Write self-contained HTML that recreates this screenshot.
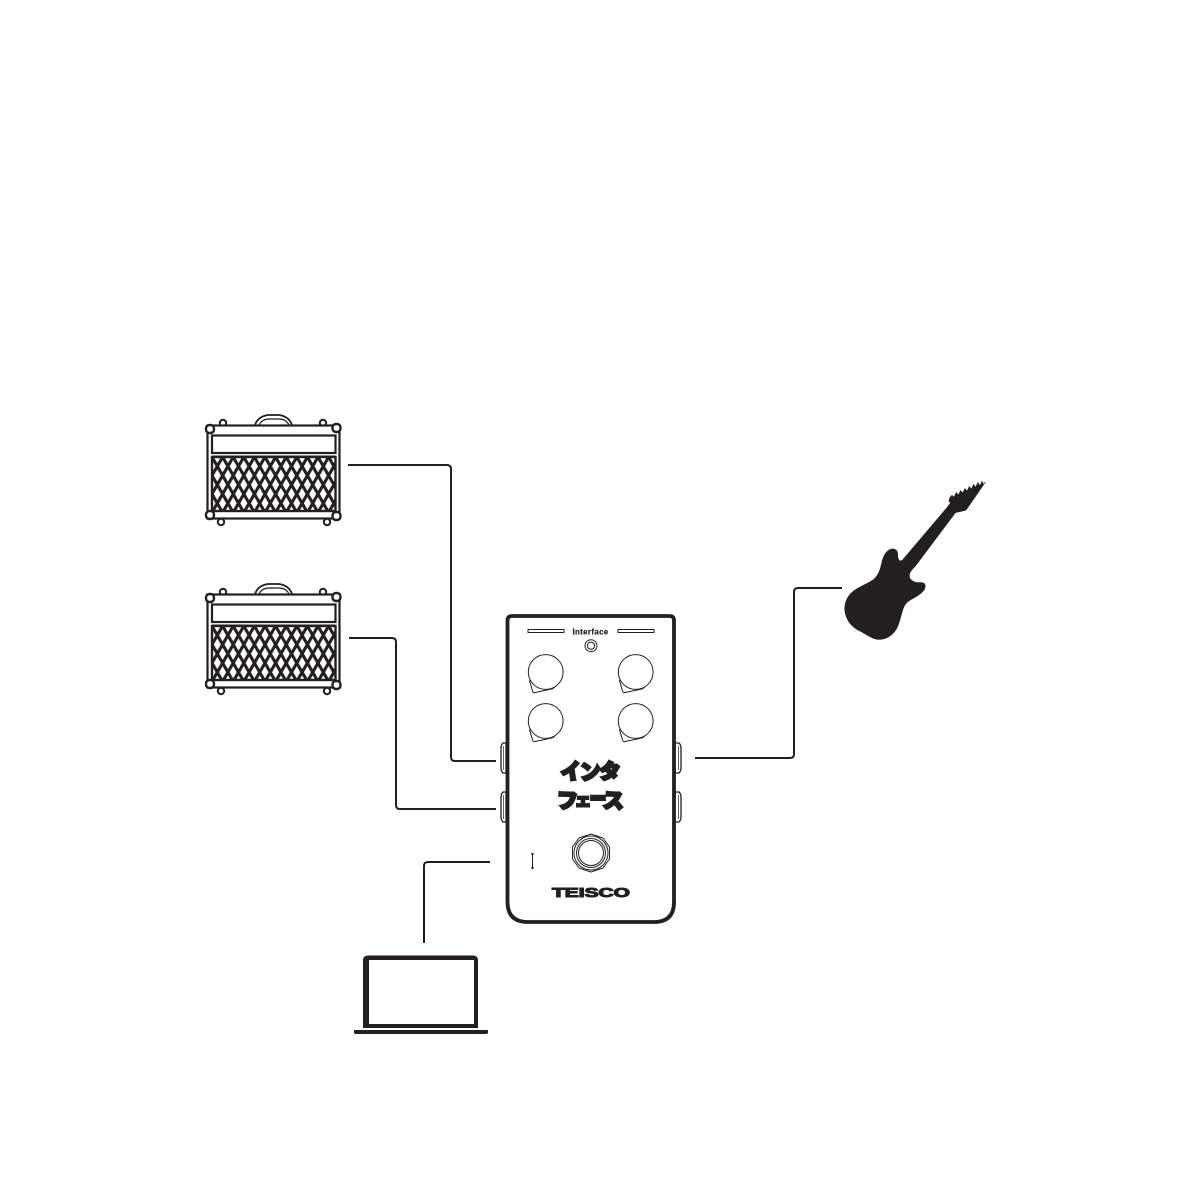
<!DOCTYPE html>
<html><head><meta charset="utf-8"><style>html,body{margin:0;padding:0;background:#fff}svg{display:block}</style></head><body>
<svg width="1192" height="1192" viewBox="0 0 1192 1192" xmlns="http://www.w3.org/2000/svg">
<defs>
<pattern id="g" x="212" y="457" width="10.6" height="18.500" patternUnits="userSpaceOnUse">
<rect width="10.6" height="18.500" fill="#fff"/>
<path d="M0 0L10.6 18.500M10.6 0L0 18.500" stroke="#231f20" stroke-width="3.100" fill="none"/>
<path d="M-1 -1.500L1 2M9.600 -1.500L11.600 2M-1 20L1 16.500M9.600 20L11.600 16.500" stroke="#231f20" stroke-width="3.100" fill="none"/>
</pattern>
<g id="amp">
<path d="M255 425c2-6 6-9 13-10h11c7 1 11 4 13 10" fill="#fff" stroke="#231f20" stroke-width="1.800"/>
<path d="M259 425c2-4 5-6 10-6h10c5 0 8 2 10 6" fill="none" stroke="#231f20" stroke-width="1.200"/>
<circle cx="223" cy="423" r="3.200" fill="#fff" stroke="#231f20" stroke-width="2"/>
<circle cx="323" cy="423" r="3.200" fill="#fff" stroke="#231f20" stroke-width="2"/>
<circle cx="221" cy="522" r="3.200" fill="#fff" stroke="#231f20" stroke-width="2"/>
<circle cx="327" cy="522" r="3.200" fill="#fff" stroke="#231f20" stroke-width="2"/>
<rect x="207.500" y="425.500" width="132" height="93" fill="#fff" stroke="#231f20" stroke-width="2.200"/>
<rect x="212" y="435.500" width="123.500" height="17.500" fill="#fff" stroke="#231f20" stroke-width="2.200"/>
<rect x="212" y="457" width="123.500" height="54" fill="url(#g)" stroke="#231f20" stroke-width="2.400"/>
<path d="M212 456.500H335.500" stroke="#231f20" stroke-width="2"/>
<rect x="206" y="425" width="8" height="8" rx="3.500" fill="#fff" stroke="#231f20" stroke-width="2.400"/>
<rect x="332.500" y="424" width="8" height="8" rx="3.500" fill="#fff" stroke="#231f20" stroke-width="2.400"/>
<rect x="206" y="511" width="8" height="8" rx="3.500" fill="#fff" stroke="#231f20" stroke-width="2.400"/>
<rect x="332.500" y="512" width="8" height="8" rx="3.500" fill="#fff" stroke="#231f20" stroke-width="2.400"/>
</g>
<g id="knob">
<path d="M-16.300 8.300L-13 19.500Q-12.500 21-10.500 20.500L7 16.800" fill="#fff" stroke="#231f20" stroke-width="1"/>
<path d="M7 16.800L9 15" fill="none" stroke="#231f20" stroke-width="1"/>
<circle r="17.400" fill="#fff" stroke="#231f20" stroke-width="1"/>
</g>
</defs>
<rect width="1192" height="1192" fill="#fff"/>

<use href="#amp"/>
<use href="#amp" y="169"/>

<g fill="none" stroke="#231f20" stroke-width="2">
<path d="M348 465H447Q451 465 451 469V757Q451 761 455 761H496"/>
<path d="M349 638H392Q396 638 396 642V805Q396 809 400 809H496"/>
<path d="M695 758H790Q794 758 794 754V592Q794 588 798 588H842"/>
<path d="M490 862H428Q424 862 424 866V943"/>
</g>

<g fill="#fff" stroke="#231f20" stroke-width="1.300">
<path d="M506 743H503Q501 745 501 748V768Q501 771 503 773H506Z"/>
<path d="M506 792H503Q501 794 501 797V817Q501 820 503 822H506Z"/>
<path d="M675 743H679Q681 745 681 748V768Q681 771 679 773H675Z"/>
<path d="M675 792H679Q681 794 681 797V817Q681 820 679 822H675Z"/>
<path d="M503.500 746V770M503.500 795V819M678.500 746V770M678.500 795V819" stroke-width=".7"/>
</g>

<path d="M512 616H669.500Q674 616 674 620.500V902Q674 922 654 922H528Q507.500 922 507.500 902V620.500Q507.500 616 512 616Z" fill="#fff" stroke="#231f20" stroke-width="3.800"/>

<rect x="528" y="629.500" width="36" height="3" fill="#fff" stroke="#231f20" stroke-width="1"/>
<rect x="618" y="629.500" width="36" height="3" fill="#fff" stroke="#231f20" stroke-width="1"/>
<text x="590.500" y="634.500" text-anchor="middle" font-family="Liberation Sans, sans-serif" font-weight="700" font-size="7.800" letter-spacing=".4" fill="#231f20" stroke="#231f20" stroke-width=".2">Interface</text>
<circle cx="591" cy="645.700" r="6" fill="#fff" stroke="#231f20" stroke-width="1"/>
<circle cx="591" cy="645.700" r="3.600" fill="#fff" stroke="#231f20" stroke-width="1"/>

<use href="#knob" x="545.700" y="672"/>
<use href="#knob" x="635.700" y="672"/>
<use href="#knob" x="545.700" y="721"/>
<use href="#knob" x="635.700" y="721"/>

<g font-family="Liberation Sans, Noto Sans CJK JP, sans-serif" font-weight="900" font-size="21" fill="#231f20" stroke="#231f20" stroke-width="2.400" stroke-linejoin="miter" text-anchor="middle">
<text transform="translate(572 779) rotate(-8)">イ</text>
<text transform="translate(591 779) rotate(-5)">ン</text>
<text transform="translate(609 779) rotate(6)">タ</text>
<text transform="translate(567 808) rotate(2)">フ</text>
<text transform="translate(583 806) scale(.8 .8)">ェ</text>
<text transform="translate(598 806) scale(.8 1)">ー</text>
<text transform="translate(613 808) rotate(3)">ス</text>
</g>

<path d="M532.500 854V868" stroke="#231f20" stroke-width="1"/>
<circle cx="532.500" cy="854" r="1.200" fill="#231f20"/>
<circle cx="532.500" cy="868" r="1.200" fill="#231f20"/>

<g fill="#fff" stroke="#231f20" stroke-width="1">
<path d="M591 834L603 838L609.500 847V859L603 868L591 872L579 868L572.500 859V847L579 838Z" stroke-linejoin="round"/>
<circle cx="591" cy="853" r="17"/>
<circle cx="591" cy="853" r="14.500"/>
<circle cx="591" cy="853" r="12.500"/>
</g>

<text x="552" y="897" textLength="78" lengthAdjust="spacingAndGlyphs" font-family="Liberation Sans, sans-serif" font-weight="700" font-size="12.500" fill="#231f20" stroke="#231f20" stroke-width="1">TEISCO</text>

<g transform="translate(830 470) scale(.3333)">
<path d="M466 36L460 44L456 34L450 48L444 38L437 52L431 44L424 58L418 50L411 64L405 56L398 70L392 62L385 76L379 68L372 82L366 76L359 84L357 94L362 98L352 112L218 270C210 277 203 270 203 258C204 244 198 236 186 237C172 240 162 254 157 272C152 292 150 310 132 328C112 344 76 352 58 376C46 392 42 412 46 430C52 456 70 474 92 484C112 494 130 510 150 508C176 506 194 490 204 466C216 436 216 410 232 396C246 384 270 378 282 360C290 346 284 336 270 338C256 340 240 332 238 320C236 308 246 298 256 288L376 128C388 124 398 124 408 120Z" fill="#231f20" stroke="#231f20" stroke-width="2"/>
</g>

<path d="M368 955.500H473Q478 955.500 478 960.500V1028H363V960.500Q363 955.500 368 955.500Z" fill="#231f20"/>
<rect x="369" y="960" width="105" height="64" fill="#fff"/>
<path d="M354 1030H488V1032.500Q488 1034 486 1034H356Q354 1034 354 1032.500Z" fill="#231f20"/>
</svg>
</body></html>
